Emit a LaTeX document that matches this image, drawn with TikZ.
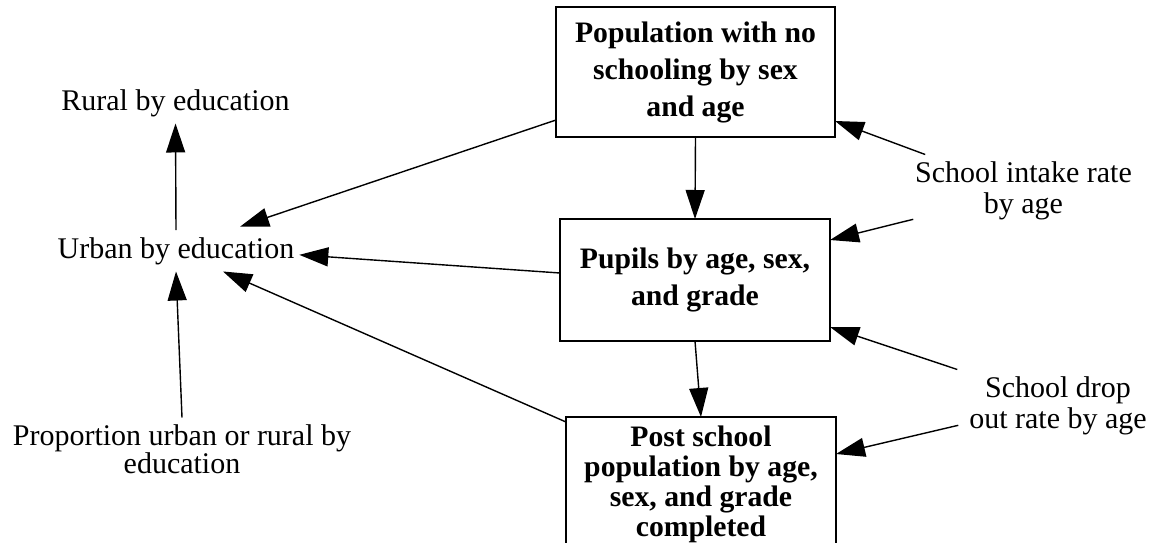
\documentclass[tikz,border=0pt]{standalone}
\usepackage{fontspec}
\setmainfont{Liberation Serif}
\usetikzlibrary{arrows.meta}
\begin{document}
\begin{tikzpicture}[x=1pt,y=-1pt,
  stagebox/.style={draw, line width=1.4pt, align=center, inner sep=0pt, outer sep=0pt,
    font=\bfseries\fontsize{29.7}{37}\selectfont},
  lbl/.style={inner sep=7pt, outer sep=0pt, align=center, font=\fontsize{30}{31}\selectfont},
  arr/.style={line width=1.4pt, -{Triangle[length=29pt,width=19pt]}}]
\useasboundingbox (0,0) rectangle (1159,542);
\node[stagebox, minimum width=279pt, minimum height=130pt] (box1) at (695.5,72)
  {Population with no\\schooling by sex\\and age};
\node[stagebox, minimum width=270pt, minimum height=122pt] (box2) at (695,280)
  {Pupils by age, sex,\\and grade};
\node[stagebox, minimum width=270pt, minimum height=134pt,
  font=\bfseries\fontsize{29.7}{30}\selectfont] (box3) at (701,484)
  {Post school\\population by age,\\sex, and grade\\completed};
\node[lbl, anchor=base] (rural) at (175.5,110) {Rural by education};
\node[lbl, anchor=base] (urban) at (176,258) {Urban by education};
\node[lbl, anchor=north, font=\fontsize{30}{27}\selectfont] (prop) at (182,417.5)
  {Proportion urban or rural by\\education};
\node[lbl, anchor=north] (intake) at (1023.5,154.5) {School intake rate\\by age};
\node[lbl, anchor=north] (drop) at (1058,369.5) {School drop\\out rate by age};
\draw[arr] (box1.south) -- (box2.north);
\draw[arr] (box2.south) -- (box3.north);
\draw[arr] (urban.north) -- (rural.south);
\draw[arr] (prop.north) -- (urban.south);
\draw[arr] ([yshift=-48pt]box1.west) -- ([xshift=64pt,yshift=3.5pt]urban.north);
\draw[arr] ([yshift=7pt]box2.west) -- ([xshift=-2pt,yshift=-4pt]urban.east);
\draw[arr] ([yshift=-5pt]box3.north west) -- ([xshift=47pt]urban.south);
\draw[arr] ([xshift=17pt]intake.north west) -- ([yshift=-49pt]box1.east);
\draw[arr] ([xshift=5pt,yshift=7.5pt]intake.south west) -- ([yshift=40pt]box2.east);
\draw[arr] ([xshift=-5pt]drop.north west) -- ([yshift=-47pt]box2.east);
\draw[arr] ([xshift=-4pt,yshift=16.5pt]drop.south west) -- ([yshift=30pt]box3.east);
\end{tikzpicture}
\end{document}
